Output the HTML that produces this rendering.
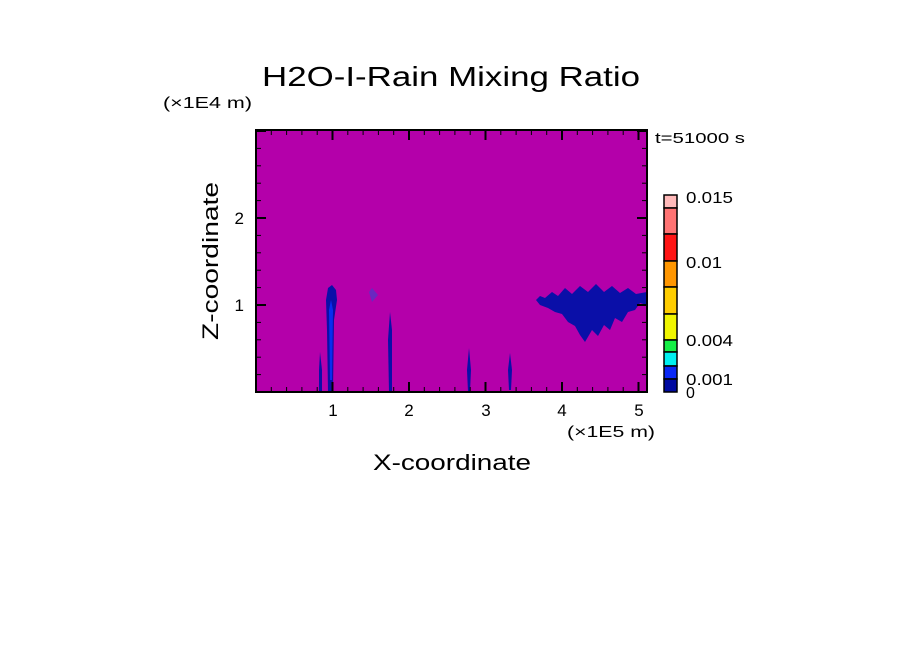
<!DOCTYPE html>
<html><head><style>body{margin:0;background:#fff}svg{display:block}text{font-family:"Liberation Sans",sans-serif;fill:#000}</style></head>
<body>
<svg id="s" width="904" height="654" xmlns="http://www.w3.org/2000/svg">
<rect x="256" y="130" width="391" height="262" fill="#b400aa"/>
<g fill="#0a0fa8">
<path d="M328,392 L327,330 L326,300 L328,288 L332,285 L336,290 L337,300 L334,320 L333,392Z"/>
<path d="M319,392 L319,370 L320,352 L322,370 L322,392Z"/>
<path d="M389,392 L388,340 L390,312 L392,330 L392,392Z"/>
<path d="M468,392 L467,370 L469,348 L471,370 L470,392Z"/>
<path d="M509,390 L508,370 L510,353 L512,370 L511,390Z"/>
<path d="M536,300 L540,296 L545,298 L552,292 L558,296 L565,288 L572,294 L580,286 L588,292 L596,284 L604,292 L612,286 L620,293 L628,288 L636,294 L647,292 L647,305 L640,303 L635,310 L628,312 L622,322 L615,318 L610,330 L604,325 L598,336 L592,330 L585,342 L580,335 L575,326 L568,322 L562,314 L555,312 L548,308 L540,305Z"/>
</g>
<path d="M330,380 L329,310 L331,300 L333,310 L332,380Z" fill="#0a2cf0"/>
<path d="M369,292 L372,288 L378,295 L372,302Z" fill="#6a28c0"/>
<rect x="256" y="130" width="391" height="262" fill="none" stroke="#000" stroke-width="2"/>
<g id="ticks" stroke="#000"></g>
<text x="262" y="86" font-size="28" textLength="378" lengthAdjust="spacingAndGlyphs">H2O-I-Rain Mixing Ratio</text>
<text x="163" y="108" font-size="16" textLength="89" lengthAdjust="spacingAndGlyphs">(×1E4 m)</text>
<text x="655" y="143" font-size="15" textLength="90" lengthAdjust="spacingAndGlyphs">t=51000 s</text>
<text x="567" y="437" font-size="16" textLength="88" lengthAdjust="spacingAndGlyphs">(×1E5 m)</text>
<text x="373" y="470" font-size="22" textLength="158" lengthAdjust="spacingAndGlyphs">X-coordinate</text>
<text transform="translate(218,340) rotate(-90)" font-size="22" textLength="158" lengthAdjust="spacingAndGlyphs">Z-coordinate</text>
<g font-size="17" text-anchor="middle">
<text x="333" y="416">1</text><text x="409" y="416">2</text><text x="486" y="416">3</text><text x="562" y="416">4</text><text x="639" y="416">5</text>
</g>
<g font-size="17" text-anchor="end"><text x="244" y="311">1</text><text x="244" y="224">2</text></g>
<g stroke="#000" stroke-width="1.5">
<rect x="664" y="195" width="13" height="13" fill="#ffb9b9"/>
<rect x="664" y="208" width="13" height="26" fill="#ff7373"/>
<rect x="664" y="234" width="13" height="27" fill="#ff1414"/>
<rect x="664" y="261" width="13" height="26" fill="#ff9600"/>
<rect x="664" y="287" width="13" height="27" fill="#ffcd00"/>
<rect x="664" y="314" width="13" height="26" fill="#f0f500"/>
<rect x="664" y="340" width="13" height="12" fill="#14f046"/>
<rect x="664" y="352" width="13" height="14" fill="#00f0f0"/>
<rect x="664" y="366" width="13" height="13" fill="#0a28f5"/>
<rect x="664" y="379" width="13" height="13" fill="#000aa0"/>
</g>
<g font-size="16"><text x="686" y="203" textLength="47" lengthAdjust="spacingAndGlyphs">0.015</text><text x="686" y="268" textLength="36" lengthAdjust="spacingAndGlyphs">0.01</text><text x="686" y="346" textLength="47" lengthAdjust="spacingAndGlyphs">0.004</text><text x="686" y="385" textLength="47" lengthAdjust="spacingAndGlyphs">0.001</text><text x="686" y="398">0</text></g>
</svg>
<script>
var g=document.getElementById('ticks'),h='';
function L(a,b,c,d,w){h+='<line x1="'+a+'" y1="'+b+'" x2="'+c+'" y2="'+d+'" stroke-width="'+w+'"/>';}
for(var i=1;i<=26;i++){var x=256+i*15.3;if(x>646)break;var maj=i%5==0;var l=maj?10:5,w=maj?2:1;L(x,392,x,392-l,w);L(x,130,x,130+l,w);}
for(var j=1;j<=15;j++){var y=392-j*17.4;if(y<131)break;var maj=j%5==0;var l=maj?10:5,w=maj?2:1;L(256,y,256+l,y,w);L(647,y,647-l,y,w);}
g.innerHTML=h;
</script>
</body></html>
